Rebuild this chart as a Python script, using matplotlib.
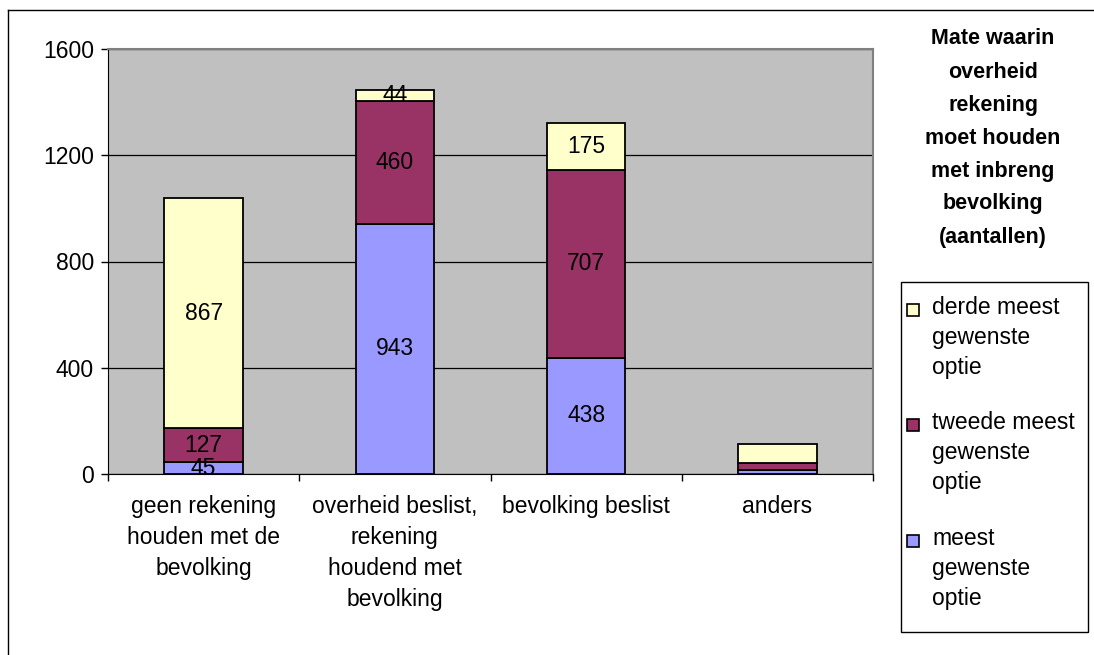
import numpy as np
import matplotlib.pyplot as plt
from matplotlib.lines import Line2D
from matplotlib.patches import Rectangle

plt.rcParams['font.family'] = ['Liberation Sans', 'DejaVu Sans']

categories = ["geen rekening\nhouden met de\nbevolking",
              "overheid beslist,\nrekening\nhoudend met\nbevolking",
              "bevolking beslist",
              "anders"]
meest = [45, 943, 438, 15]
tweede = [127, 460, 707, 25]
derde = [867, 44, 175, 73]
show_labels = [True, True, True, False]

series_names = ["derde meest\ngewenste\noptie",
                "tweede meest\ngewenste\noptie",
                "meest\ngewenste\noptie"]
colors = ["#FFFFCC", "#993366", "#9999FF"]  # derde, tweede, meest

FS = 16.5
W, H = 1094, 655

fig = plt.figure(figsize=(W / 100, H / 100), dpi=100)
ax = fig.add_axes([108 / W, 1 - 474 / H, 765 / W, 425 / H])
ax.set_facecolor("#C0C0C0")

x = np.arange(len(categories))
w = 0.41
b1 = np.array(meest)
b2 = b1 + np.array(tweede)

ax.bar(x, meest, w, color=colors[2], edgecolor="black", linewidth=1.3, zorder=3)
ax.bar(x, tweede, w, bottom=b1, color=colors[1], edgecolor="black", linewidth=1.3, zorder=3)
ax.bar(x, derde, w, bottom=b2, color=colors[0], edgecolor="black", linewidth=1.3, zorder=3)

for i in range(len(categories)):
    if not show_labels[i]:
        continue
    for val, bot in [(meest[i], 0), (tweede[i], b1[i]), (derde[i], b2[i])]:
        ax.text(x[i], bot + val / 2, str(val), ha="center", va="center",
                fontsize=FS, zorder=4)

ax.set_xlim(-0.5, len(categories) - 0.5)
ax.set_ylim(0, 1600)
ax.set_yticks([0, 400, 800, 1200, 1600])
ax.tick_params(axis="y", labelsize=FS, length=5, width=1, pad=5)
ax.yaxis.grid(True, color="black", linewidth=0.9, zorder=1)
ax.set_axisbelow(True)

ax.set_xticks(x)
ax.set_xticklabels(categories, fontsize=FS, linespacing=1.45, va="top")
ax.tick_params(axis="x", length=0, pad=15)
ax.set_xticks(np.arange(len(categories) + 1) - 0.5, minor=True)
ax.tick_params(axis="x", which="minor", length=5, width=1)

for s in ["top", "right"]:
    ax.spines[s].set_color("#808080")
    ax.spines[s].set_linewidth(1.5)
ax.spines["left"].set_color("black")
ax.spines["bottom"].set_color("black")

# outer frame (only top and left edges visible in the crop)
fig.add_artist(Line2D([8 / W, 1], [1 - 10 / H, 1 - 10 / H], transform=fig.transFigure,
                      color="black", linewidth=1))
fig.add_artist(Line2D([8 / W, 8 / W], [0, 1 - 10 / H], transform=fig.transFigure,
                      color="black", linewidth=1))

fig.text(993 / W, 1 - 138 / H,
         "Mate waarin\noverheid\nrekening\nmoet houden\nmet inbreng\nbevolking\n(aantallen)",
         ha="center", va="center", fontsize=15.5, fontweight="bold", linespacing=1.75)

# legend drawn by hand so the swatch sits on the first text line
fig.add_artist(Rectangle((901 / W, 1 - 632 / H), 187 / W, 350 / H,
                         transform=fig.transFigure, fill=False,
                         edgecolor="black", linewidth=1))
first_lines = [310, 425, 541]
for name, col, y0 in zip(series_names, colors, first_lines):
    fig.add_artist(Rectangle((907 / W, 1 - (y0 + 6) / H), 12 / W, 12 / H,
                             transform=fig.transFigure, facecolor=col,
                             edgecolor="black", linewidth=1.2))
    fig.text(932 / W, 1 - (y0 - 14) / H, name, ha="left", va="top",
             fontsize=FS, linespacing=1.38)

fig.savefig("out.png", dpi=100)
